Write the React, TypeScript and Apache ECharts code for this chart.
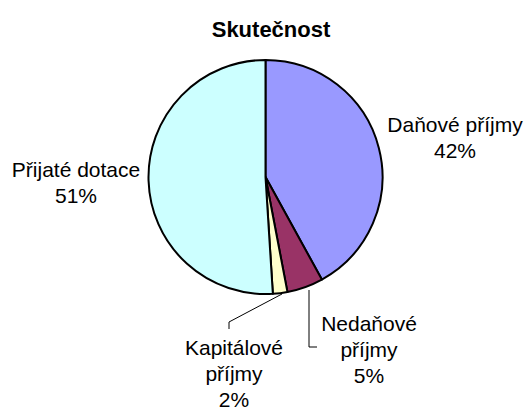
import React, { useEffect, useRef } from "react";
import * as echarts from "echarts";

const title = "Skutečnost";
const categories = ["Daňové příjmy", "Nedaňové příjmy", "Kapitálové příjmy", "Přijaté dotace"];
const values = [42, 5, 2, 51];
const colors = ["#9999FF", "#993366", "#FFFFCC", "#CCFFFF"];
const wrapName = [false, true, true, false];

// label placement (layout only)
const labelPos = [
  { x: 455, y: 137, line: null as number[][] | null },
  { x: 369, y: 349, line: [[309, 290], [309, 347], [317, 347]] },
  { x: 234, y: 373, line: [[282, 294], [229, 322], [229, 329]] },
  { x: 76, y: 182, line: null as number[][] | null },
];

export default function App() {
  const ref = useRef<HTMLDivElement>(null);
  useEffect(() => {
    document.body.style.margin = "0";
    const chart = echarts.init(ref.current!, null, { renderer: "svg" });
    const font = "'Liberation Sans', Arial, sans-serif";
    chart.setOption({
      animation: false,
      backgroundColor: "#ffffff",
      title: {
        text: title,
        left: 266,
        top: 13,
        textAlign: "center",
        textStyle: { fontFamily: font, fontSize: 22, fontWeight: "bold", color: "#000" },
      },
      series: [
        {
          type: "pie",
          center: [265.5, 177],
          radius: 117,
          startAngle: 90,
          clockwise: true,
          avoidLabelOverlap: false,
          itemStyle: { borderColor: "#000", borderWidth: 2 },
          label: {
            show: true,
            position: "outside",
            fontFamily: font,
            fontSize: 21,
            lineHeight: 26,
            color: "#000",
            align: "center",
            formatter: (p: any) => {
              const n = wrapName[p.dataIndex] ? p.name.replace(" ", "\n") : p.name;
              return n + "\n" + Math.round(p.percent) + "%";
            },
          },
          labelLine: { show: true, lineStyle: { color: "#000", width: 1 } },
          labelLayout: (params: any) => {
            const lp = labelPos[params.dataIndex];
            const r: any = { x: lp.x, y: lp.y, align: "center", verticalAlign: "middle" };
            if (lp.line) r.labelLinePoints = lp.line;
            return r;
          },
          data: categories.map((c, i) => ({
            name: c,
            value: values[i],
            itemStyle: { color: colors[i] },
            labelLine: { show: labelPos[i].line !== null },
          })),
        },
      ],
    });
    return () => chart.dispose();
  }, []);
  return <div ref={ref} style={{ width: 528, height: 410 }} />;
}
